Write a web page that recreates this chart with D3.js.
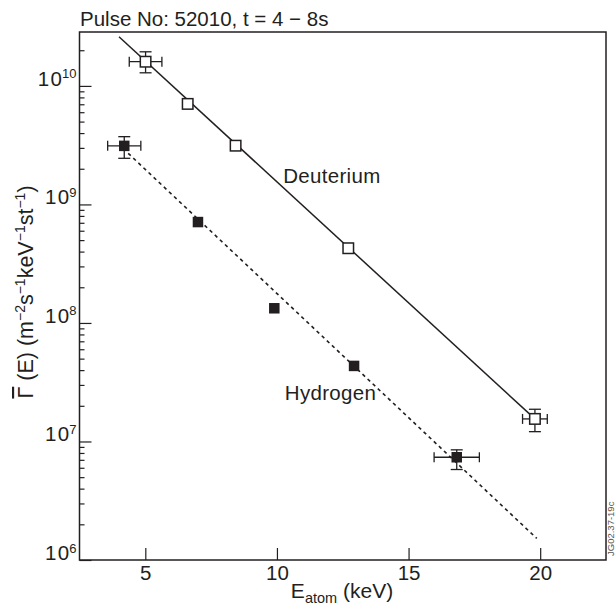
<!DOCTYPE html>
<html>
<head>
<meta charset="utf-8">
<script src="https://cdn.jsdelivr.net/npm/d3@7"></script>
<style>
    body { margin: 0; background: #fff; }
    text { font-family: "Liberation Sans", Arial, sans-serif; fill: #231f20; }
</style>
</head>
<body>
<svg id="chart" width="615" height="610"></svg>
<script>
// deuterium points (open squares)
var deutE = [5.01, 6.61, 8.43, 12.71, 19.8];
var deutFlux = [1.6e10, 7.05e9, 3.13e9, 4.27e8, 1.55e7];
var deutErrE = [0.62, 0, 0, 0, 0.47];
var deutLo = [1.29e10, null, null, null, 1.21e7];
var deutHi = [1.94e10, null, null, null, 1.87e7];

// hydrogen points (filled squares)
var hydE = [4.20, 7.0, 9.90, 12.93, 16.83];
var hydFlux = [3.12e9, 7.1e8, 1.33e8, 4.34e7, 7.36e6];
var hydErrE = [0.63, 0, 0, 0, 0.86];
var hydLo = [2.45e9, null, null, null, 5.8e6];
var hydHi = [3.73e9, null, null, null, 8.5e6];

// fitted lines
var deutFitE = [4.0, 19.8];
var deutFitFlux = [2.6e10, 1.55e7];
var hydFitE = [4.35, 19.87];
var hydFitFlux = [2.7e9, 1.52e6];

var xTicks = [5, 10, 15, 20];
var yTicks = [1e6, 1e7, 1e8, 1e9, 1e10];
var yExp = ['6', '7', '8', '9', '10'];

var ink = '#231f20';
var plotL = 79.5, plotR = 606, plotT = 32, plotB = 560;

var svg = d3.select('#chart');

var x = d3.scaleLinear().domain([2.5, 22.5]).range([plotL, plotR]);
var y = d3.scaleLog().domain([1e6, 2.85e10]).range([plotB, plotT]);

// minor ticks on the log axis
var minors = [];
for (var p = 6; p <= 10; p++) {
    for (var m = 2; m <= 9; m++) {
        var v = m * Math.pow(10, p);
        if (v < 2.85e10) { minors.push(v); }
    }
}

svg.append('g')
    .attr('transform', 'translate(' + plotL + ',0)')
    .call(d3.axisLeft(y).tickValues(minors).tickSize(-5).tickFormat(''))
    .call(function (g) { g.select('.domain').remove(); g.selectAll('line').attr('stroke', ink).attr('stroke-width', 1.2); });

svg.append('g')
    .attr('transform', 'translate(' + plotL + ',0)')
    .call(d3.axisLeft(y).tickValues(yTicks).tickSize(-12).tickFormat(''))
    .call(function (g) { g.select('.domain').remove(); g.selectAll('line').attr('stroke', ink).attr('stroke-width', 1.2); });

var yLab = svg.append('g').selectAll('text')
    .data(yTicks)
    .enter().append('text')
    .attr('x', plotL - 3)
    .attr('y', function (d) { return y(d); })
    .attr('text-anchor', 'end')
    .style('font-size', '20.5px');
yLab.append('tspan').style('letter-spacing', '1.5px').text('10');
yLab.append('tspan')
    .attr('dy', -7.5)
    .attr('dx', -1.5)
    .style('font-size', '13px')
    .text(function (d, i) { return yExp[i]; });

var xAxis = svg.append('g')
    .attr('transform', 'translate(0,' + plotB + ')')
    .call(d3.axisBottom(x).tickValues(xTicks).tickSize(-12).tickPadding(5).tickFormat(d3.format('d')));
xAxis.select('.domain').remove();
xAxis.selectAll('line').attr('stroke', ink).attr('stroke-width', 1.2);
xAxis.selectAll('text')
    .attr('fill', ink)
    .style('font-family', '"Liberation Sans", Arial, sans-serif')
    .style('font-size', '20.5px');

// frame
svg.append('rect')
    .attr('x', plotL).attr('y', plotT)
    .attr('width', plotR - plotL).attr('height', plotB - plotT)
    .attr('fill', 'none')
    .attr('stroke', ink)
    .attr('stroke-width', 1.5);

// fit lines
var fit = d3.line()
    .x(function (d) { return x(d[0]); })
    .y(function (d) { return y(d[1]); });

svg.append('path')
    .attr('d', fit(d3.zip(deutFitE, deutFitFlux)))
    .attr('fill', 'none')
    .attr('stroke', ink)
    .attr('stroke-width', 1.5);

svg.append('path')
    .attr('d', fit(d3.zip(hydFitE, hydFitFlux)))
    .attr('fill', 'none')
    .attr('stroke', ink)
    .attr('stroke-width', 1.6)
    .attr('stroke-dasharray', '3.5,3.5');

function errorBars(es, fs, errE, lo, hi) {
    var g = svg.append('g').attr('stroke', ink).attr('stroke-width', 1.3);
    es.forEach(function (e, i) {
        var cx = x(e), cy = y(fs[i]);
        if (errE[i]) {
            var x0 = x(e - errE[i]), x1 = x(e + errE[i]);
            g.append('line').attr('x1', x0).attr('x2', x1).attr('y1', cy).attr('y2', cy);
            g.append('line').attr('x1', x0).attr('x2', x0).attr('y1', cy - 5).attr('y2', cy + 5);
            g.append('line').attr('x1', x1).attr('x2', x1).attr('y1', cy - 5).attr('y2', cy + 5);
        }
        if (lo[i]) {
            var y0 = y(lo[i]), y1 = y(hi[i]);
            g.append('line').attr('x1', cx).attr('x2', cx).attr('y1', y0).attr('y2', y1);
            g.append('line').attr('x1', cx - 6).attr('x2', cx + 6).attr('y1', y0).attr('y2', y0);
            g.append('line').attr('x1', cx - 6).attr('x2', cx + 6).attr('y1', y1).attr('y2', y1);
        }
    });
}

errorBars(deutE, deutFlux, deutErrE, deutLo, deutHi);
errorBars(hydE, hydFlux, hydErrE, hydLo, hydHi);

var sq = 10.5;
svg.append('g').selectAll('rect')
    .data(d3.zip(deutE, deutFlux))
    .enter().append('rect')
    .attr('x', function (d) { return x(d[0]) - sq / 2; })
    .attr('y', function (d) { return y(d[1]) - sq / 2; })
    .attr('width', sq).attr('height', sq)
    .attr('fill', '#fff')
    .attr('stroke', ink)
    .attr('stroke-width', 1.5);

svg.append('g').selectAll('rect')
    .data(d3.zip(hydE, hydFlux))
    .enter().append('rect')
    .attr('x', function (d) { return x(d[0]) - sq / 2; })
    .attr('y', function (d) { return y(d[1]) - sq / 2; })
    .attr('width', sq).attr('height', sq)
    .attr('fill', ink);

// series labels
svg.append('text')
    .attr('x', x(10.24)).attr('y', y(1.51e9))
    .style('font-size', '20.5px')
    .style('letter-spacing', '0.3px')
    .text('Deuterium');
svg.append('text')
    .attr('x', x(10.3)).attr('y', y(2.24e7))
    .style('font-size', '20.5px')
    .style('letter-spacing', '0.3px')
    .text('Hydrogen');

// title
svg.append('text')
    .attr('x', 80).attr('y', 26)
    .style('font-size', '20.5px')
    .text('Pulse No: 52010, t = 4 \u2212 8s');

// x axis title
var xt = svg.append('text')
    .attr('x', 342).attr('y', 598)
    .attr('text-anchor', 'middle')
    .style('font-size', '21px');
xt.append('tspan').text('E');
xt.append('tspan').attr('dy', 5).style('font-size', '14.5px').text('atom');
xt.append('tspan').attr('dy', -5).text(' (keV)');

// y axis title
var yt = svg.append('text')
    .attr('transform', 'translate(33,292) rotate(-90)')
    .attr('text-anchor', 'middle')
    .style('font-size', '21.5px');
yt.append('tspan').style('text-decoration', 'overline').text('\u0393');
yt.append('tspan').text(' (E) (m');
yt.append('tspan').attr('dy', -8).style('font-size', '14px').text('\u22122');
yt.append('tspan').attr('dy', 8).text('s');
yt.append('tspan').attr('dy', -8).style('font-size', '14px').text('\u22121');
yt.append('tspan').attr('dy', 8).text('keV');
yt.append('tspan').attr('dy', -8).style('font-size', '14px').text('\u22121');
yt.append('tspan').attr('dy', 8).text('st');
yt.append('tspan').attr('dy', -8).style('font-size', '14px').text('\u22121');
yt.append('tspan').attr('dy', 8).text(')');

// figure code on the right edge
svg.append('text')
    .attr('transform', 'translate(614,556) rotate(-90)')
    .style('font-size', '9.5px')
    .style('fill', '#555')
    .text('JG02.37-19c');
</script>
</body>
</html>
